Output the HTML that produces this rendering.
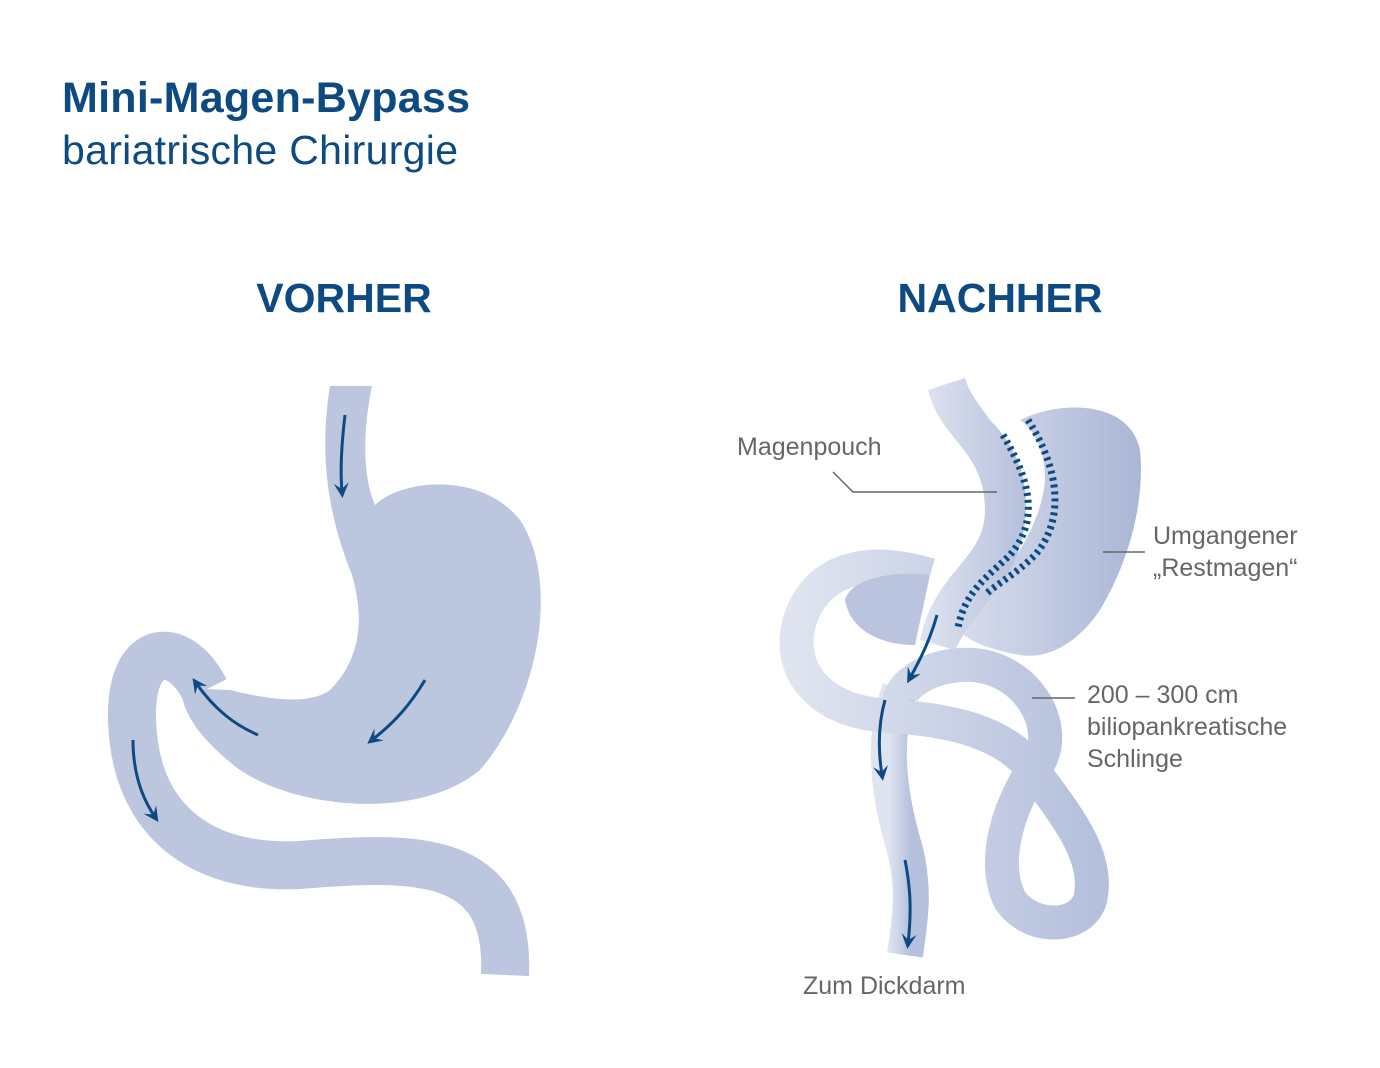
<!DOCTYPE html>
<html><head><meta charset="utf-8"><style>
body{margin:0;background:#fff;width:1380px;height:1068px;overflow:hidden}
svg{display:block}
text{font-family:"Liberation Sans",sans-serif}
</style></head><body>
<svg width="1380" height="1068" viewBox="0 0 1380 1068">
<defs>
<marker id="ah" viewBox="0 0 10 10" refX="6" refY="5" markerWidth="5" markerHeight="5" orient="auto">
<path d="M0,0 L10,5 L0,10 L4,5 Z" fill="#0d4a82"/></marker>
<linearGradient id="g1" x1="0" x2="1"><stop offset="0" stop-color="#dfe4f0"/><stop offset="1" stop-color="#b5c0dc"/></linearGradient>
<linearGradient id="g2" x1="0" x2="1"><stop offset="0" stop-color="#d7dded"/><stop offset="1" stop-color="#aab6d6"/></linearGradient>
</defs>
<text x="62" y="112" font-size="43" font-weight="bold" fill="#0d4a82" textLength="408">Mini-Magen-Bypass</text>
<text x="62" y="164" font-size="41" fill="#0d4a82" textLength="396">bariatrische Chirurgie</text>
<text x="344" y="312" font-size="41" font-weight="bold" fill="#0d4a82" text-anchor="middle">VORHER</text>
<text x="1000" y="312" font-size="41" font-weight="bold" fill="#0d4a82" text-anchor="middle">NACHHER</text>

<!-- LEFT -->
<path d="M205,690 C180,640 130,640 132,720 C135,820 200,870 300,865 C420,855 510,855 505,975" fill="none" stroke="#bcc6df" stroke-width="48"/>
<path d="M330,386 L372,386 C365,420 360,470 375,505 C400,480 480,470 520,520 C560,580 540,700 480,770 C420,820 300,810 240,770 C200,740 180,710 182,688 L230,690 C270,700 310,705 330,690 C360,660 365,620 352,575 C330,520 318,460 330,386 Z" fill="#bcc6df"/>
<g fill="none" stroke="#0d4a82" stroke-width="3" marker-end="url(#ah)">
<path d="M345,415 C342,440 340,470 342,492"/>
<path d="M425,680 C410,705 395,722 372,740"/>
<path d="M258,735 C235,725 215,710 196,683"/>
<path d="M133,740 C133,770 140,795 155,817"/>
</g>

<!-- RIGHT -->
<path d="M900,690 C880,740 890,800 905,850 C915,890 910,920 905,955" fill="none" stroke="url(#g1)" stroke-width="36"/>
<path d="M930,575 C880,560 820,560 800,620 C785,670 820,710 880,715 C950,720 1010,730 1040,780 C1070,820 1100,860 1090,900 C1080,930 1030,930 1010,900 C990,860 1010,800 1040,760 C1060,720 1020,660 960,665 C920,668 900,690 900,700" fill="none" stroke="url(#g1)" stroke-width="34"/>
<path d="M930,575 C890,570 850,580 845,600 C850,630 880,645 915,645 Z" fill="#bac4de"/>
<path d="M1020,420 C1060,400 1130,400 1140,450 C1145,500 1130,560 1100,610 C1080,640 1050,660 1020,655 C990,650 965,640 960,630 C990,590 1040,540 1045,480 C1045,450 1035,430 1020,420 Z" fill="url(#g2)"/>
<path d="M928,390 C940,440 985,450 985,510 C985,560 935,570 920,640 L955,650 C980,600 1020,580 1025,520 C1030,470 1010,440 990,420 C980,405 970,395 965,378 Z" fill="url(#g1)"/>
<g fill="none" stroke="#0d4a82" stroke-width="7" stroke-dasharray="3 4">
<path d="M1003,435 C1030,480 1040,520 1010,555 C990,575 965,590 958,628"/>
<path d="M1028,420 C1060,470 1065,520 1035,555 C1015,575 995,585 985,595"/>
</g>
<g fill="none" stroke="#0d4a82" stroke-width="3" marker-end="url(#ah)">
<path d="M937,615 C930,640 920,660 910,678"/>
<path d="M885,700 C878,725 878,750 882,775"/>
<path d="M905,860 C910,885 912,910 908,943"/>
</g>
<g stroke="#666" stroke-width="1.5" fill="none">
<path d="M833,472 L853,492 L997,492"/>
<path d="M1103,552 L1145,552"/>
<path d="M1032,698 L1075,698"/>
</g>
<g font-size="25" fill="#666">
<text x="737" y="455">Magenpouch</text>
<text x="1153" y="544">Umgangener</text>
<text x="1153" y="576">„Restmagen“</text>
<text x="1087" y="703">200 – 300 cm</text>
<text x="1087" y="735">biliopankreatische</text>
<text x="1087" y="767">Schlinge</text>
<text x="803" y="994">Zum Dickdarm</text>
</g>
</svg>
</body></html>
